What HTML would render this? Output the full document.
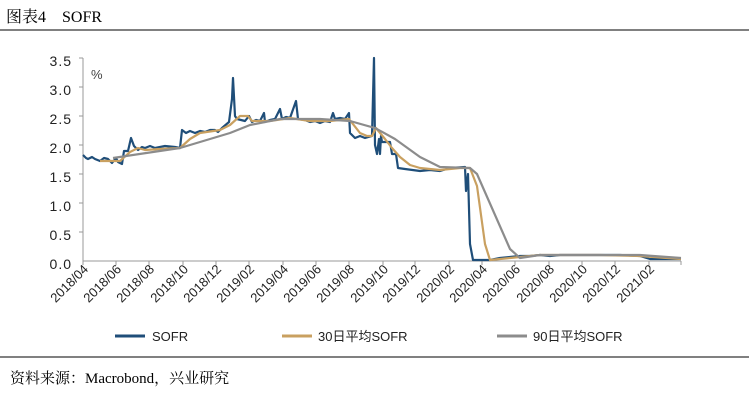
<!DOCTYPE html><html><head><meta charset="utf-8"><style>
body{margin:0;background:#fff;width:749px;height:401px;overflow:hidden;font-family:"Liberation Sans","Noto Sans CJK SC",sans-serif}
</style></head><body>
<svg width="749" height="401" xmlns="http://www.w3.org/2000/svg" font-family="Liberation Sans, Noto Sans CJK SC, sans-serif">
<text x="6" y="22" font-size="16" font-family="Liberation Serif, Noto Serif CJK SC, serif">图表4　SOFR</text>
<line x1="0" y1="30" x2="749" y2="30" stroke="#000" stroke-width="1"/>
<g font-size="14" fill="#222" text-anchor="end" letter-spacing="1">
<text x="72" y="66">3.5</text><text x="72" y="95">3.0</text><text x="72" y="124">2.5</text><text x="72" y="153">2.0</text><text x="72" y="182">1.5</text><text x="72" y="211">1.0</text><text x="72" y="240">0.5</text><text x="72" y="269">0.0</text>
</g>
<text x="91" y="79" font-size="13" fill="#444">%</text>
<g stroke="#999" stroke-width="1">
<line x1="83" y1="58" x2="83" y2="261"/><line x1="83" y1="261" x2="681" y2="261"/>
<line x1="79" y1="58" x2="83" y2="58"/><line x1="79" y1="87" x2="83" y2="87"/><line x1="79" y1="116" x2="83" y2="116"/><line x1="79" y1="145" x2="83" y2="145"/><line x1="79" y1="174" x2="83" y2="174"/><line x1="79" y1="203" x2="83" y2="203"/><line x1="79" y1="232" x2="83" y2="232"/>
<line x1="83" y1="261" x2="83" y2="265"/><line x1="116" y1="261" x2="116" y2="265"/><line x1="149" y1="261" x2="149" y2="265"/><line x1="183" y1="261" x2="183" y2="265"/><line x1="216" y1="261" x2="216" y2="265"/><line x1="249" y1="261" x2="249" y2="265"/><line x1="283" y1="261" x2="283" y2="265"/><line x1="316" y1="261" x2="316" y2="265"/><line x1="349" y1="261" x2="349" y2="265"/><line x1="383" y1="261" x2="383" y2="265"/><line x1="415" y1="261" x2="415" y2="265"/><line x1="449" y1="261" x2="449" y2="265"/><line x1="482" y1="261" x2="482" y2="265"/><line x1="515" y1="261" x2="515" y2="265"/><line x1="549" y1="261" x2="549" y2="265"/><line x1="582" y1="261" x2="582" y2="265"/><line x1="615" y1="261" x2="615" y2="265"/><line x1="649" y1="261" x2="649" y2="265"/><line x1="681" y1="261" x2="681" y2="265"/>
</g>
<g font-size="13" fill="#222" text-anchor="end">
<text transform="translate(89,270) rotate(-45)">2018/04</text>
<text transform="translate(122,270) rotate(-45)">2018/06</text>
<text transform="translate(155,270) rotate(-45)">2018/08</text>
<text transform="translate(189,270) rotate(-45)">2018/10</text>
<text transform="translate(222,270) rotate(-45)">2018/12</text>
<text transform="translate(255,270) rotate(-45)">2019/02</text>
<text transform="translate(289,270) rotate(-45)">2019/04</text>
<text transform="translate(322,270) rotate(-45)">2019/06</text>
<text transform="translate(355,270) rotate(-45)">2019/08</text>
<text transform="translate(389,270) rotate(-45)">2019/10</text>
<text transform="translate(421,270) rotate(-45)">2019/12</text>
<text transform="translate(455,270) rotate(-45)">2020/02</text>
<text transform="translate(488,270) rotate(-45)">2020/04</text>
<text transform="translate(521,270) rotate(-45)">2020/06</text>
<text transform="translate(555,270) rotate(-45)">2020/08</text>
<text transform="translate(588,270) rotate(-45)">2020/10</text>
<text transform="translate(621,270) rotate(-45)">2020/12</text>
<text transform="translate(655,270) rotate(-45)">2021/02</text>
</g>
<polyline fill="none" stroke="#1f4e79" stroke-width="2.2" stroke-linejoin="round" points="83,155 86,158 88,159 92,157 95,159 100,161 104,158 108,159 112,163 116,158 118,162 122,164 124,151 128,151 131,138 134,146 138,150 142,147 145,148 150,146 155,148 160,147 165,146 175,147 180,148 182,130 186,133 190,131 195,133 200,131 205,132 210,130 215,130 218,132 222,128 229,122 232,99 233,78 235,116 237,119 245,121 249,116 252,122 256,120 260,121 264,113 265,122 270,120 275,119 280,109 282,119 286,117 290,118 296,101 298,119 305,120 310,122 315,121 320,123 325,121 330,122 333,113 335,119 340,118 345,119 349,113 350,133 355,138 360,136 365,138 372,136 374,58 375,145 377,154 379,139 380,154 381,136 382,142 390,142 392,154 396,154 398,168 405,169 420,171 430,170 440,171 450,168 465,167 466,191 468,174 470,244 473,260 490,260 500,258 510,257 520,256 530,256 540,255 550,256 560,255 580,255 600,255 620,255 640,256 650,259 681,259"/>
<polyline fill="none" stroke="#c9a060" stroke-width="2.2" stroke-linejoin="round" points="100,161 120,161 130,152 138,148 145,150 160,149 180,148 190,139 200,133 220,130 230,125 240,116 248,116 252,121 270,121 290,118 310,121 330,121 349,119 360,133 367,136 372,136 376,128 385,139 392,148 400,157 410,165 420,168 440,170 460,168 470,168 477,186 485,244 490,260 510,258 540,255 600,255 640,256 681,259"/>
<polyline fill="none" stroke="#8c8c8c" stroke-width="2.2" stroke-linejoin="round" points="113,158 180,148 230,133 250,125 280,119 320,119 350,121 375,128 395,139 420,157 440,167 470,168 477,174 510,249 520,258 540,255 640,255 681,258"/>
<g font-size="13" fill="#222">
<line x1="115" y1="336" x2="145" y2="336" stroke="#1f4e79" stroke-width="3"/><text x="152" y="341">SOFR</text>
<line x1="282" y1="336" x2="312" y2="336" stroke="#c9a060" stroke-width="3"/><text x="318" y="341">30日平均SOFR</text>
<line x1="497" y1="336" x2="527" y2="336" stroke="#8c8c8c" stroke-width="3"/><text x="533" y="341">90日平均SOFR</text>
</g>
<line x1="0" y1="357" x2="749" y2="357" stroke="#000" stroke-width="1"/>
<text x="10" y="383" font-size="15" font-family="Liberation Serif, Noto Serif CJK SC, serif">资料来源：Macrobond，兴业研究</text>
</svg>
</body></html>
